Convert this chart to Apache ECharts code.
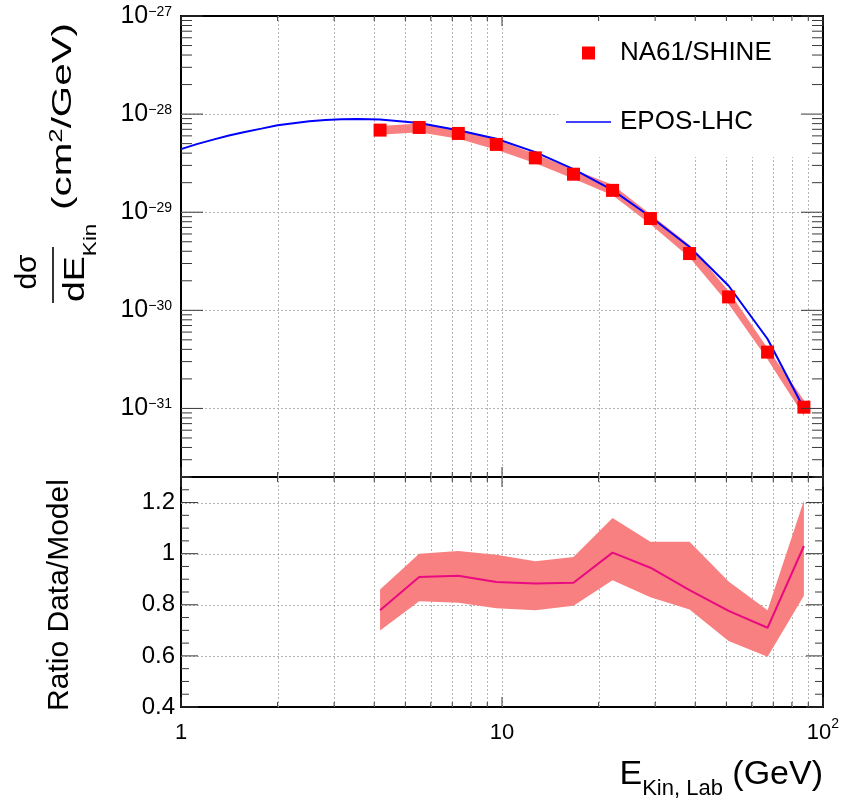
<!DOCTYPE html>
<html>
<head>
<meta charset="utf-8">
<script src="https://cdn.jsdelivr.net/npm/echarts@6/dist/echarts.min.js"></script>
<style>
  html, body { margin: 0; padding: 0; background: #fff; }
  #main { width: 853px; height: 805px; }
</style>
</head>
<body>
<div id="main"></div>
<script>
// Kinetic energy bins (GeV) of the measurement
const energy = [4.17, 5.52, 7.31, 9.6, 12.7, 16.7, 22.1, 29.0, 38.4, 50.8, 67.2, 87.2];
// Measured dσ/dE_Kin (cm^2/GeV) and its uncertainty band
const xsec     = [6.87e-29, 7.31e-29, 6.35e-29, 4.91e-29, 3.58e-29, 2.44e-29, 1.67e-29, 8.62e-30, 3.79e-30, 1.37e-30, 3.75e-31, 1.03e-31];
const xsecLow  = [6.16e-29, 6.54e-29, 5.61e-29, 4.34e-29, 3.16e-29, 2.19e-29, 1.49e-29, 7.56e-30, 3.46e-30, 1.16e-30, 3.15e-31, 0.835e-31];
const xsecHigh = [7.58e-29, 8.04e-29, 7.02e-29, 5.50e-29, 3.93e-29, 2.72e-29, 1.90e-29, 9.55e-30, 4.63e-30, 1.57e-30, 4.11e-31, 1.21e-31];
// EPOS-LHC prediction
const modelEnergy = [1, 1.12, 1.26, 1.41, 1.58, 1.78, 2.0, 2.24, 2.51, 2.82, 3.16, 3.55,
                     4.17, 5.52, 7.31, 9.6, 12.7, 16.7, 22.1, 29.0, 38.4, 50.8, 67.2, 87.2];
const modelXsec   = [4.40e-29, 4.94e-29, 5.49e-29, 6.05e-29, 6.58e-29, 7.11e-29, 7.69e-29, 8.09e-29, 8.45e-29, 8.71e-29, 8.85e-29, 8.89e-29,
                     8.82e-29, 8.10e-29, 6.85e-29, 5.60e-29, 4.10e-29, 2.75e-29, 1.68e-29, 9.0e-30, 4.42e-30, 1.78e-30, 5.1e-31, 1.0e-31];
// Data/model ratio with its band
const ratio     = [0.779, 0.909, 0.914, 0.889, 0.883, 0.886, 1.004, 0.945, 0.857, 0.776, 0.710, 1.030];
const ratioLow  = [0.699, 0.814, 0.808, 0.786, 0.779, 0.796, 0.896, 0.829, 0.782, 0.658, 0.597, 0.835];
const ratioHigh = [0.860, 1.000, 1.010, 0.996, 0.970, 0.987, 1.140, 1.047, 1.047, 0.891, 0.779, 1.208];
// Tick labels
const xTickLabels = { 1: '{b|1}', 10: '{b|10}', 100: '{b|10}{s|2}' };
const yDecadeExponents = [-31, -30, -29, -28, -27];
const ratioTickLabels = ['0.4', '0.6', '0.8', '1', '1.2'];

// The spectrum axis works in units of 1e-30 cm^2/GeV so the numbers stay
// well inside the precision the log scale rounds to.
const UNIT_EXP = -30;
const toUnit = v => v * Math.pow(10, -UNIT_EXP);

const FONT = 'Liberation Sans, Arial, Helvetica, sans-serif';
const BAND = '#f98080';
const Y_MIN = toUnit(2e-32), Y_MAX = toUnit(1e-27);

// Log-axis tick positions 1..9 per decade
function logTicks(lo, hi) {
  const out = [];
  for (let e = Math.floor(Math.log10(lo)) - 1; e <= Math.ceil(Math.log10(hi)); e++) {
    for (let m = 1; m <= 9; m++) {
      const v = m * Math.pow(10, e);
      if (v >= lo * 0.999 && v <= hi * 1.001) out.push([v, m === 1]);
    }
  }
  return out;
}
function linTicks(lo, hi, step, majorEvery) {
  const out = [];
  const n = Math.round((hi - lo) / step);
  for (let k = 0; k <= n; k++) out.push([+(lo + k * step).toFixed(4), k % majorEvery === 0]);
  return out;
}

const xTickList = logTicks(1, 100);
const yTopTickList = logTicks(Y_MIN, Y_MAX);
const yRatioTickList = linTicks(0.4, 1.3, 0.05, 4);

function tickRenderer(cfg) {
  return function (params, api) {
    const cs = params.coordSys;
    const x0 = cs.x, x1 = cs.x + cs.width, y0 = cs.y, y1 = cs.y + cs.height;
    const children = [];
    const seg = (ax, ay, bx, by) => children.push({
      type: 'line', shape: { x1: ax, y1: ay, x2: bx, y2: by },
      style: { stroke: '#3a3a3a', lineWidth: 1 }
    });
    xTickList.forEach(([v, major]) => {
      const px = api.coord([v, cfg.yRef])[0];
      const L = major ? cfg.xMajor : cfg.xMinor;
      seg(px, y1, px, y1 - L);
      seg(px, y0, px, y0 + L);
    });
    cfg.yTicks.forEach(([v, major]) => {
      const py = api.coord([10, v])[1];
      const L = major ? cfg.yMajor : cfg.yMinor;
      seg(x0, py, x0 + L, py);
      seg(x1, py, x1 - L, py);
    });
    return { type: 'group', children };
  };
}

function gridRenderer(cfg) {
  return function (params, api) {
    const cs = params.coordSys;
    const x0 = cs.x, x1 = cs.x + cs.width, y0 = cs.y, y1 = cs.y + cs.height;
    const children = [];
    const style = { stroke: '#b4b4b4', lineWidth: 1, lineDash: [2, 2] };
    xTickList.forEach(([v]) => {
      if (v <= 1 || v >= 100) return;
      const px = Math.round(api.coord([v, cfg.yRef])[0]) + 0.5;
      children.push({ type: 'line', shape: { x1: px, y1: y0, x2: px, y2: y1 }, style });
    });
    cfg.yLines.forEach(v => {
      const py = Math.round(api.coord([10, v])[1]) + 0.5;
      children.push({ type: 'line', shape: { x1: x0, y1: py, x2: x1, y2: py }, style });
    });
    return { type: 'group', children };
  };
}

function bandRenderer(xs, lo, hi) {
  return function (params, api) {
    const pts = [];
    xs.forEach((x, i) => pts.push(api.coord([x, hi[i]])));
    for (let i = xs.length - 1; i >= 0; i--) pts.push(api.coord([xs[i], lo[i]]));
    return { type: 'polygon', shape: { points: pts }, style: { fill: BAND } };
  };
}

function yTopLabel(v) {
  const lg = Math.log10(v);
  const e = Math.round(lg);
  const exp = e + UNIT_EXP;
  if (Math.abs(lg - e) > 1e-6 || yDecadeExponents.indexOf(exp) < 0) return '';
  return '{b|10}{s|' + String(exp).replace('-', '\u2212') + '}';
}
function xLabel(v) {
  const e = Math.round(Math.log10(v));
  const key = Math.pow(10, e);
  if (Math.abs(v - key) > key * 1e-6) return '';
  return xTickLabels[key] || '';
}
function ratioLabel(v) {
  const s = String(Math.round(v * 10) / 10);
  return ratioTickLabels.indexOf(s) >= 0 && Math.abs(v * 10 - Math.round(v * 10)) < 1e-6 ? s : '';
}

const chart = echarts.init(document.getElementById('main'), null, { renderer: 'canvas' });

const option = {
  animation: false,
  backgroundColor: '#fff',
  textStyle: { fontFamily: FONT },
  grid: [
    { left: 181, top: 16, width: 642, height: 461, show: true, borderColor: '#000', borderWidth: 2, backgroundColor: 'transparent' },
    { left: 181, top: 477, width: 642, height: 230, show: true, borderColor: '#000', borderWidth: 2, backgroundColor: 'transparent' }
  ],
  xAxis: [
    { gridIndex: 0, type: 'log', logBase: 10, min: 1, max: 100,
      axisLine: { show: false }, axisTick: { show: false }, splitLine: { show: false }, axisLabel: { show: false } },
    { gridIndex: 1, type: 'log', logBase: 10, min: 1, max: 100,
      axisLine: { show: false }, axisTick: { show: false }, splitLine: { show: false },
      axisLabel: {
        margin: 10, color: '#000', showMinLabel: true, showMaxLabel: true, formatter: xLabel,
        rich: {
          b: { fontSize: 22, lineHeight: 31, color: '#000', fontFamily: FONT },
          s: { fontSize: 14, lineHeight: 14, color: '#000', fontFamily: FONT, padding: [0, 0, 17, 0] }
        }
      } }
  ],
  yAxis: [
    { gridIndex: 0, type: 'log', logBase: 10, min: Y_MIN, max: Y_MAX,
      axisLine: { show: false }, axisTick: { show: false }, splitLine: { show: false },
      axisLabel: {
        margin: 9, color: '#000', showMinLabel: true, showMaxLabel: true, formatter: yTopLabel,
        rich: {
          b: { fontSize: 25, lineHeight: 25, color: '#000', fontFamily: FONT },
          s: { fontSize: 14, lineHeight: 14, color: '#000', fontFamily: FONT, padding: [0, 0, 8, 0] }
        }
      } },
    { gridIndex: 1, type: 'value', min: 0.4, max: 1.3, interval: 0.2,
      axisLine: { show: false }, axisTick: { show: false }, splitLine: { show: false },
      axisLabel: { margin: 6, color: '#000', fontSize: 24, fontFamily: FONT, showMinLabel: true, showMaxLabel: true, formatter: ratioLabel } }
  ],
  legend: {
    orient: 'vertical', left: 566, top: 38, itemWidth: 45, itemHeight: 13, itemGap: 39, padding: 0,
    selectedMode: false,
    textStyle: { fontSize: 26, color: '#000', fontFamily: FONT, lineHeight: 30, padding: [0, 0, 0, 4] },
    data: [
      { name: 'NA61/SHINE', icon: 'path://M0 0H10V10H0Z' },
      { name: 'EPOS-LHC', icon: 'path://M0 0H45V1.6H0Z' }
    ]
  },
  graphic: [
    // white legend backdrop
    { type: 'rect', z: 2, silent: true, shape: { x: 558, y: 17, width: 264, height: 140 }, style: { fill: '#fff' } },
    // x-axis title
    { type: 'text', z: 10, x: 823, y: 775, silent: true,
      style: { text: '{e|E}{k|Kin, Lab}{e| (GeV)}', align: 'right', verticalAlign: 'middle',
        rich: {
          e: { fontSize: 34, lineHeight: 34, fill: '#000', fontFamily: FONT },
          k: { fontSize: 22, lineHeight: 22, fill: '#000', fontFamily: FONT, padding: [28, 0, 0, 0] }
        } } },
    // y-axis title of the spectrum panel
    { type: 'text', z: 10, x: 63, y: 116.5, rotation: Math.PI / 2, scaleX: 1.44, silent: true,
      style: { text: '{a|(cm}{s|2}{a|/GeV)}', align: 'center', verticalAlign: 'middle',
        rich: {
          a: { fontSize: 28, lineHeight: 28, fill: '#000', fontFamily: FONT },
          s: { fontSize: 18, lineHeight: 18, fill: '#000', fontFamily: FONT, padding: [0, 0, 12, 0] }
        } } },
    { type: 'text', z: 10, x: 28, y: 272, rotation: Math.PI / 2, silent: true,
      style: { text: 'dσ', align: 'center', verticalAlign: 'middle', fontSize: 30, fill: '#000', fontFamily: FONT } },
    { type: 'line', z: 10, silent: true, shape: { x1: 53, y1: 247, x2: 53, y2: 303 }, style: { stroke: '#000', lineWidth: 1.6 } },
    { type: 'text', z: 10, x: 76, y: 302, rotation: Math.PI / 2, scaleX: 1.25, silent: true,
      style: { text: '{a|dE}{k|Kin}', align: 'left', verticalAlign: 'middle',
        rich: {
          a: { fontSize: 30, lineHeight: 30, fill: '#000', fontFamily: FONT },
          k: { fontSize: 18, lineHeight: 18, fill: '#000', fontFamily: FONT, padding: [30, 0, 0, 0] }
        } } },
    // y-axis title of the ratio panel
    { type: 'text', z: 10, x: 60, y: 595, rotation: Math.PI / 2, silent: true,
      style: { text: 'Ratio Data/Model', align: 'center', verticalAlign: 'middle', fontSize: 30, fill: '#000', fontFamily: FONT } }
  ],
  series: [
    { type: 'custom', name: 'gridTop', xAxisIndex: 0, yAxisIndex: 0, z: 1, silent: true, data: [[10, 10]],
      renderItem: gridRenderer({ yRef: 10, yLines: [1e-28, 1e-29, 1e-30, 1e-31].map(toUnit) }) },
    { type: 'custom', name: 'bandTop', xAxisIndex: 0, yAxisIndex: 0, z: 3, silent: true, data: [[10, 10]],
      renderItem: bandRenderer(energy, xsecLow.map(toUnit), xsecHigh.map(toUnit)) },
    { type: 'line', name: 'EPOS-LHC', xAxisIndex: 0, yAxisIndex: 0, z: 4, silent: true,
      data: modelEnergy.map((e, i) => [e, toUnit(modelXsec[i])]),
      symbol: 'none', lineStyle: { color: '#0000ff', width: 2 }, itemStyle: { color: '#0000ff' } },
    { type: 'scatter', name: 'NA61/SHINE', xAxisIndex: 0, yAxisIndex: 0, z: 5, silent: true,
      data: energy.map((e, i) => [e, toUnit(xsec[i])]),
      symbol: 'rect', symbolSize: 13, itemStyle: { color: '#ff0000', opacity: 1 } },
    { type: 'custom', name: 'ticksTop', xAxisIndex: 0, yAxisIndex: 0, z: 7, silent: true, data: [[10, 10]],
      renderItem: tickRenderer({ yRef: 10, xMajor: 10, xMinor: 5, yMajor: 22, yMinor: 11, yTicks: yTopTickList }) },

    { type: 'custom', name: 'gridRatio', xAxisIndex: 1, yAxisIndex: 1, z: 1, silent: true, data: [[10, 1]],
      renderItem: gridRenderer({ yRef: 1, yLines: [0.6, 0.8, 1.0, 1.2] }) },
    { type: 'custom', name: 'bandRatio', xAxisIndex: 1, yAxisIndex: 1, z: 3, silent: true, data: [[10, 1]],
      renderItem: bandRenderer(energy, ratioLow, ratioHigh) },
    { type: 'line', name: 'ratio', xAxisIndex: 1, yAxisIndex: 1, z: 4, silent: true,
      data: energy.map((e, i) => [e, ratio[i]]),
      symbol: 'none', lineStyle: { color: '#ea0a80', width: 2 } },
    { type: 'custom', name: 'ticksRatio', xAxisIndex: 1, yAxisIndex: 1, z: 7, silent: true, data: [[10, 1]],
      renderItem: tickRenderer({ yRef: 1, xMajor: 10, xMinor: 5, yMajor: 17, yMinor: 8, yTicks: yRatioTickList }) }
  ]
};

chart.setOption(option);
</script>
</body>
</html>
